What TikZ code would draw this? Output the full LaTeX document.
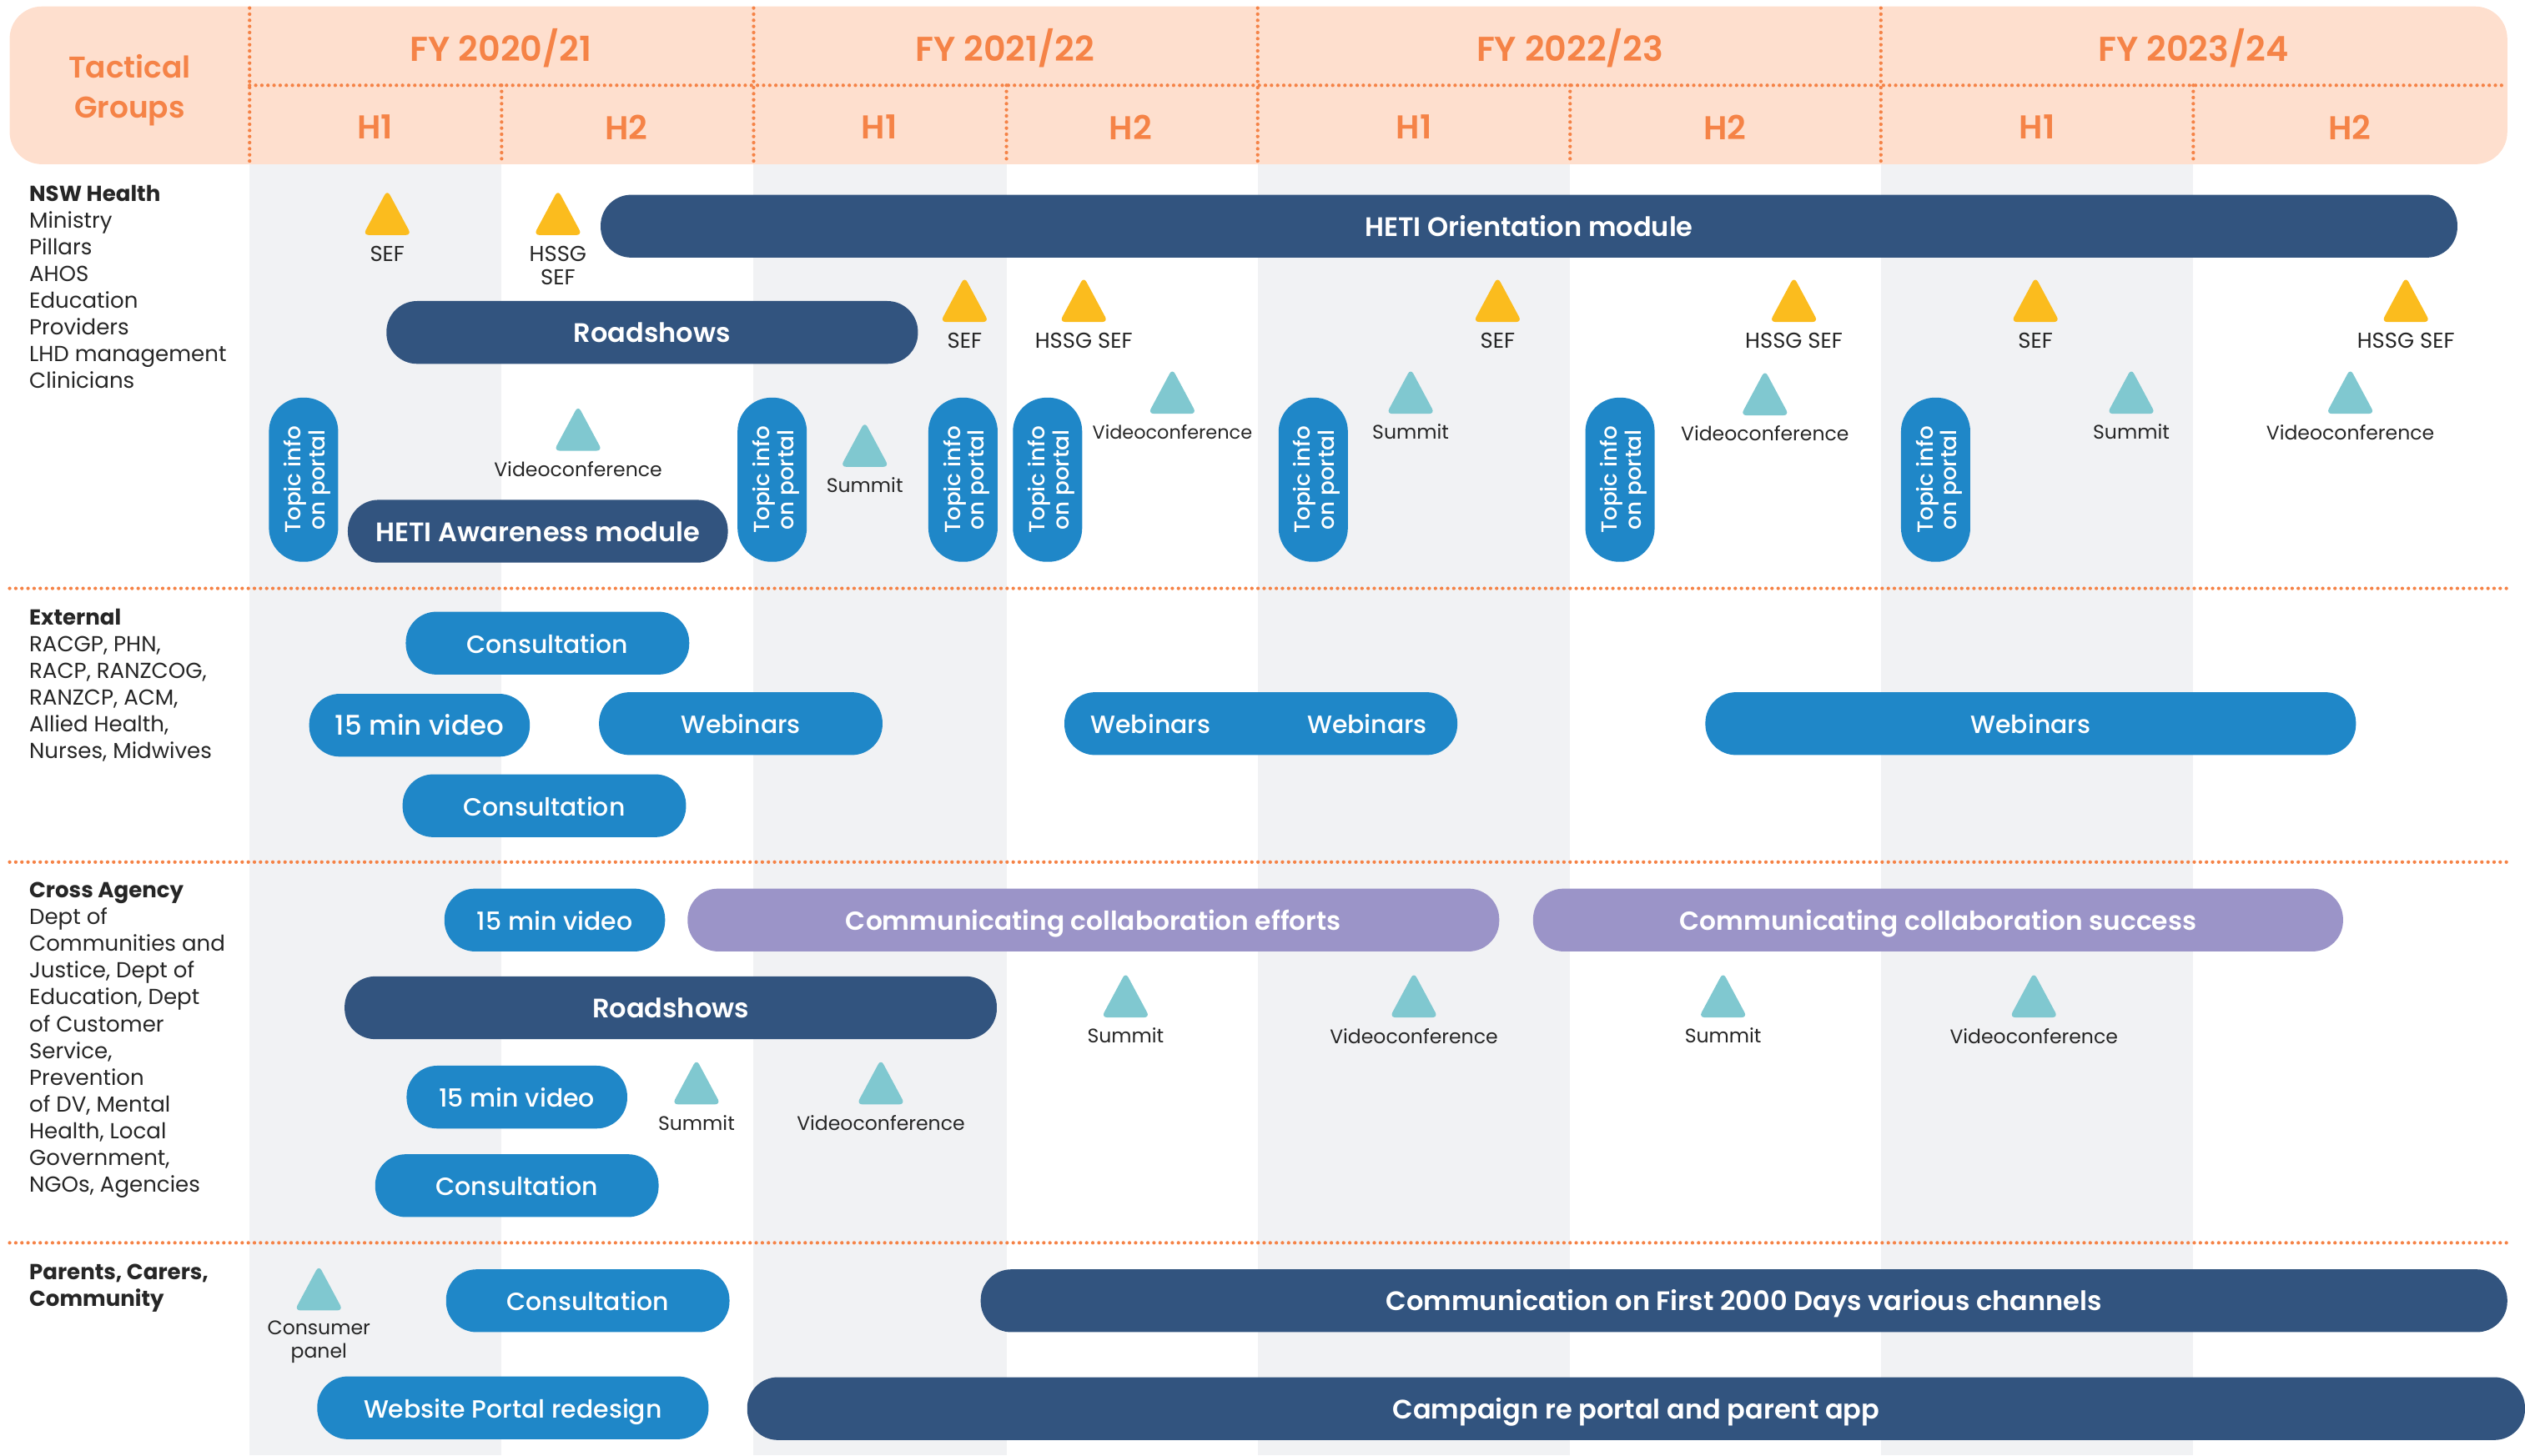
\documentclass[tikz,border=0pt]{standalone}
\usepackage{fontspec}
\setmainfont{Poppins}
\newfontfamily\semifont{Poppins SemiBold}
\newfontfamily\medfont{Poppins Medium}
\definecolor{headfill}{HTML}{FEDFCE}
\definecolor{headtext}{HTML}{F58347}
\definecolor{bandgrey}{HTML}{F1F2F4}
\definecolor{navybar}{HTML}{32547F}
\definecolor{bluebar}{HTML}{1F87C8}
\definecolor{purplebar}{HTML}{9B94C8}
\definecolor{sefyellow}{HTML}{FBBC1E}
\definecolor{tealtri}{HTML}{80C8D0}
\definecolor{bodytext}{HTML}{262626}
\tikzset{
	pill/.style={rounded corners=19pt, minimum height=39pt, inner sep=0pt, text=white, text height=12.5pt, text depth=0pt, font=\fontsize{15.5}{18}\selectfont\medfont},
	navypill/.style={pill, fill=navybar, font=\fontsize{16.6}{18}\selectfont\semifont},
	purplepill/.style={pill, fill=purplebar, font=\fontsize{16.2}{18}\selectfont\semifont},
	topicpill/.style={pill, fill=bluebar, rotate=90, rounded corners=21pt, minimum width=102pt, minimum height=43pt, align=center, text height=, text depth=, font=\fontsize{13.6}{15}\selectfont\medfont},
	headtitle/.style={text=headtext, align=center, font=\fontsize{20.5}{25}\selectfont\semifont},
	tacticaltitle/.style={headtitle, font=\fontsize{18.6}{25}\selectfont\semifont},
	yeartitle/.style={headtitle, font=\fontsize{21.4}{25}\selectfont\semifont},
	grouptext/.style={anchor=north west, align=left, inner sep=0pt, text=bodytext, font=\fontsize{13.5}{16.6}\selectfont},
	triptext/.style={text=bodytext, align=center, inner sep=0pt, font=\fontsize{12.2}{14.5}\selectfont},
	seftext/.style={triptext, font=\fontsize{13.4}{14.5}\selectfont},
	dotline/.style={headtext, line width=2.2pt, line cap=round, dash pattern=on 0pt off 3.8pt}
}
\begin{document}
\begin{tikzpicture}[x=1pt, y=-1pt]
	\clip (0,0) rectangle (1568,904);
	
	% Grey half year bands
	\foreach \xa/\xb in {155/311.5, 468/625, 781/975, 1168/1362} {
		\fill[bandgrey] (\xa,100) rectangle (\xb,904);
	}
	
	% Header
	\fill[headfill, rounded corners=20pt] (6,4) rectangle (1557,102);
	\node[tacticaltitle] (tactical) at (80.5,56) {Tactical\\Groups};
	\foreach \x/\t in {311/2020\slash 21, 624/2021\slash 22, 975/2022\slash 23, 1362/2023\slash 24} {
		\node[yeartitle] (fy\x) at (\x,30) {FY \t};
	}
	\foreach \x/\t in {233/H1, 389/H2, 546/H1, 702/H2, 878/H1, 1071/H2, 1265/H1, 1459/H2} {
		\node[headtitle] (half\x) at (\x,79) {\t};
	}
	
	% Dotted lines
	\foreach \x in {155, 468, 781, 1168} {
		\draw[dotline] (\x,5) -- (\x,102);
	}
	\foreach \x in {311.5, 625, 975, 1362} {
		\draw[dotline] (\x,53) -- (\x,102);
	}
	\draw[dotline] (155,53) -- (1557,53);
	\foreach \y in {365.5, 535.5, 772} {
		\draw[dotline] (6,\y) -- (1557,\y);
	}
	
	% Tactical groups
	\node[grouptext] (nsw) at (18,115) {\textbf{NSW Health}\\Ministry\\Pillars\\AHOS\\Education\\Providers\\LHD management\\Clinicians};
	\node[grouptext] (external) at (18,378) {\textbf{External}\\RACGP, PHN,\\RACP, RANZCOG,\\RANZCP, ACM,\\Allied Health,\\Nurses, Midwives};
	\node[grouptext] (cross) at (18,548) {\textbf{Cross Agency}\\Dept of\\Communities and\\Justice, Dept of\\Education, Dept\\of Customer\\Service,\\Prevention\\of DV, Mental\\Health, Local\\Government,\\NGOs, Agencies};
	\node[grouptext] (parents) at (18,785) {\textbf{Parents, Carers,}\\\textbf{Community}};
	
	% Navy bars
	\foreach \n/\x/\y/\w/\t in {orient/949.5/140.5/1153/HETI Orientation module, roadA/405/206.5/330/Roadshows, aware/334/330/236/HETI Awareness module, roadB/416.5/626/405/Roadshows, first/1083/808/948/Communication on First 2000 Days various channels, campaign/1016/875/1104/Campaign re portal and parent app} {
		\node[navypill, minimum width=\w pt] (\n) at (\x,\y) {\t};
	}
	
	% Blue bars
	\foreach \n/\x/\y/\w/\t in {consA/340/399.5/176/Consultation, webA/460/449.5/176/Webinars, consB/338/500.5/176/Consultation, webC/1261/449.5/404/Webinars, videoB/344.5/571.5/137/15 min video, videoC/321/681.5/137/15 min video, consC/321/736.5/176/Consultation, consD/365/808/176/Consultation, portal/318.5/874.5/243/Website Portal redesign} {
		\node[pill, fill=bluebar, minimum width=\w pt] (\n) at (\x,\y) {\t};
	}
	\node[pill, fill=bluebar, minimum width=137pt, font=\fontsize{16.8}{18}\selectfont\medfont] (videoA) at (260.5,450.5) {15 min video};
	\node[pill, fill=bluebar, minimum width=244pt] (webB) at (783,449.5) {};
	\node[pill] (webBa) at (714.5,449.5) {Webinars};
	\node[pill] (webBb) at (849,449.5) {Webinars};
	
	% Purple bars
	\node[purplepill, minimum width=504pt] (effort) at (679,571.5) {Communicating collaboration efforts};
	\node[purplepill, minimum width=503pt] (success) at (1203.5,571.5) {Communicating collaboration success};
	
	% Topic info on the portal
	\foreach \x in {188.5, 479.5, 598, 650.5, 815.5, 1006, 1202} {
		\node[topicpill] (topic\x) at (\x,298) {\rule{0pt}{15pt}Topic info\\on portal};
	}
	
	% SEF triangles
	\foreach \i/\x/\y/\t in {1/240.5/121/SEF, 2/346.5/121/HSSG\\SEF, 3/599/175/SEF, 4/673/175/HSSG SEF, 5/930/175/SEF, 6/1114/175/HSSG SEF, 7/1264/175/SEF, 8/1494/175/HSSG SEF} {
		\fill[sefyellow, rounded corners=3.5pt] (\x-15,\y+25) -- (\x+15,\y+25) -- (\x,\y-3) -- cycle;
		\node[seftext, anchor=north] (sef\i) at (\x,\y+31.5) {\t};
	}
	
	% Teal triangles
	\foreach \i/\x/\y/\t in {1/359/255/Videoconference, 2/728/232/{\fontsize{11.6}{14}\selectfont Videoconference}, 3/537/265/Summit, 4/876/232/Summit, 5/1096/233/Videoconference, 6/1323.5/232/Summit, 7/1459.5/232/Videoconference, 8/699/607/Summit, 9/878/607/Videoconference, 10/1070/607/Summit, 11/1263/607/Videoconference, 12/432.5/661/Summit, 13/547/661/Videoconference, 14/198/789/Consumer\\panel} {
		\fill[tealtri, rounded corners=3.5pt] (\x-15,\y+25) -- (\x+15,\y+25) -- (\x,\y-3) -- cycle;
		\node[triptext, anchor=north] (meet\i) at (\x,\y+31.5) {\t};
	}
\end{tikzpicture}
\end{document}
